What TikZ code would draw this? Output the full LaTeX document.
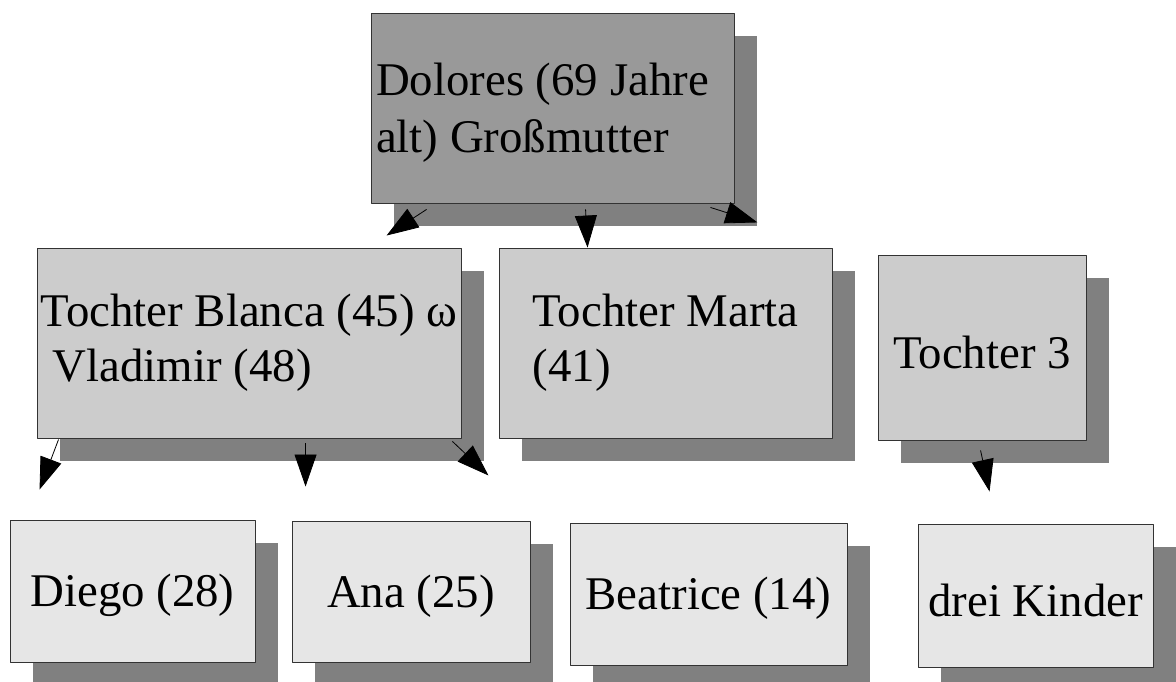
\documentclass[tikz,border=0pt]{standalone}
\usepackage{fontspec}
\setmainfont{Liberation Serif}
\usetikzlibrary{arrows.meta}
\usetikzlibrary{shadows}

\definecolor{grau1}{HTML}{999999}
\definecolor{grau2}{HTML}{CCCCCC}
\definecolor{grau3}{HTML}{E6E6E6}
\definecolor{schatten}{HTML}{808080}

\tikzset{
  kasten/.style={rectangle, draw=black!80, line width=0.9bp, inner sep=0bp,
    font=\fontsize{47}{55}\selectfont, align=left,
    execute at begin node={\rule{0pt}{0.891em}},
    drop shadow={shadow xshift=23bp, shadow yshift=-23bp, fill=schatten, opacity=1}},
  pfeil/.style={black, line width=0.8bp, -{Triangle[length=32bp, width=22bp]}},
}

\begin{document}
\begin{tikzpicture}[>=latex,line join=bevel,]
%%
\useasboundingbox (0bp,0bp) rectangle (1176bp,682bp);
\node (dolores) at (552.5bp,574bp) [kasten,fill=grau1,minimum width=363bp,minimum height=190bp,text width=353bp,align=flush left,font=\fontsize{47}{56.5}\selectfont] {Dolores (69 Jahre\\alt) Großmutter};
  \node (blanca) at (249bp,339bp) [kasten,fill=grau2,minimum width=424bp,minimum height=190bp] {Tochter Blanca (45) ω\\\hspace*{12bp}Vladimir (48)};
  \node (marta) at (665.5bp,339bp) [kasten,fill=grau2,minimum width=333bp,minimum height=190bp] {Tochter Marta\\(41)};
  \node (tochter3) at (982bp,334.5bp) [kasten,fill=grau2,minimum width=208bp,minimum height=185bp] {Tochter 3};
  \node (diego) at (132.5bp,91bp) [kasten,fill=grau3,minimum width=245bp,minimum height=142bp] {Diego (28)};
  \node (ana) at (411bp,90.5bp) [kasten,fill=grau3,minimum width=238bp,minimum height=141bp] {Ana (25)};
  \node (beatrice) at (708.5bp,88bp) [kasten,fill=grau3,minimum width=277bp,minimum height=142bp] {Beatrice (14)};
  \node (kinder) at (1035.5bp,86.5bp) [kasten,fill=grau3,minimum width=235bp,minimum height=143bp] {drei Kinder};
  \draw [pfeil] ([shift={(56bp,-6bp)}]dolores.south west) -- ([shift={(350bp,12bp)}]blanca.north west);
  \draw [pfeil] ([shift={(215bp,-6bp)}]dolores.south west) -- ([shift={(89bp,0bp)}]marta.north west);
  \draw [pfeil] ([shift={(-24bp,-4bp)}]dolores.south east) -- ([shift={(23bp,-19bp)}]dolores.south east);
  \draw [pfeil] ([shift={(22bp,-1bp)}]blanca.south west) -- ([shift={(30bp,30bp)}]diego.north west);
  \draw [pfeil] ([shift={(269bp,-5bp)}]blanca.south west) -- ([shift={(14bp,34bp)}]ana.north west);
  \draw [pfeil] ([shift={(-9bp,-3bp)}]blanca.south east) -- ([shift={(27bp,-37bp)}]blanca.south east);
  \draw [pfeil] ([shift={(103bp,-10bp)}]tochter3.south west) -- ([shift={(72bp,32bp)}]kinder.north west);
%
\end{tikzpicture}
\end{document}
